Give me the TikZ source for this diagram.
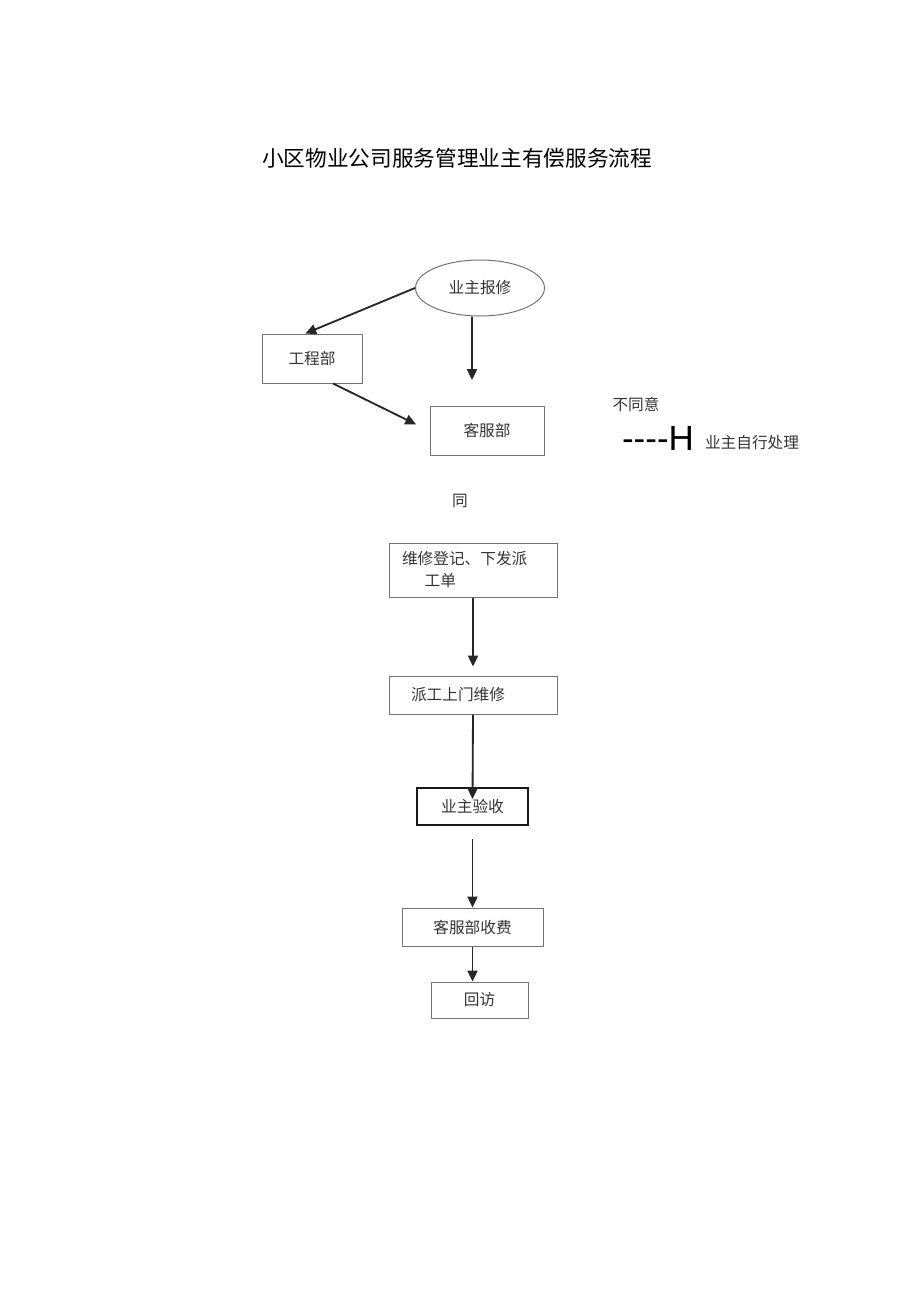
\documentclass[tikz,border=0pt]{standalone}
\usepackage{fontspec}
\newfontfamily\cjk{Noto Sans CJK SC}
\setsansfont{Liberation Sans}
\usetikzlibrary{arrows.meta,shapes.geometric}

\begin{document}
\begin{tikzpicture}[x=0.6pt,y=-0.6pt,
  lbl/.style={font=\cjk\fontsize{9.4}{13.2}\selectfont, text=black!80},
  box/.style={lbl, draw=black!55, line width=0.6pt, inner sep=0pt},
  arr/.style={-{Triangle[length=6.5pt,width=6pt]}, line width=1.1pt, black!85}]
\useasboundingbox (0,0) rectangle (920,1301);
\node[font=\cjk\fontsize{13}{15}\selectfont] (title) at (457,158) {小区物业公司服务管理业主有偿服务流程};
\node[box, ellipse, minimum width=77.4pt, minimum height=33.6pt] (bx) at (480,288) {业主报修};
\node[box, minimum width=60pt, minimum height=29.4pt] (gcb) at (312,358.5) {工程部};
\node[box, minimum width=68.4pt, minimum height=29.4pt] (kfb) at (487,430.5) {客服部};
\node[lbl] (bty) at (636,404) {不同意};
\node[font=\sffamily\fontsize{21}{21}\selectfont] (dash) at (658,438) {-{}-{}-{}-H};
\node[lbl] (zxcl) at (752,443) {业主自行处理};
\node[lbl] (tong) at (460,501) {同};
\node[box, minimum height=32.4pt, text width=85.2pt, inner xsep=7.8pt, align=left] (wxdj) at (473,570) {维修登记、下发派\\\hspace*{1.45em}工单};
\node[box, minimum height=22.8pt, text width=74.4pt, inner xsep=13.2pt, align=left] (pgsm) at (473,695) {派工上门维修};
\node[box, draw=black!90, line width=1.1pt, minimum width=66.6pt, minimum height=22.2pt] (yzys) at (472.5,806.5) {业主验收};
\node[box, minimum width=84.6pt, minimum height=22.8pt] (kfsf) at (472.5,927) {客服部收费};
\node[box, minimum width=58.2pt, minimum height=21.6pt] (hf) at (479.5,1000) {回访};
\coordinate (kfbin) at (472,380);
\draw[arr] (bx.west) -- ([xshift=-4pt]gcb.north);
\draw[arr] ([xshift=-4.8pt]bx.south) -- (kfbin);
\draw[arr] ([xshift=12.6pt]gcb.south) -- ([yshift=-0.3pt]kfb.west) [shorten >=9pt];
\draw[arr, shorten >=5.4pt] (wxdj.south) -- (pgsm.north);
\draw[arr] (pgsm.south) -- ([yshift=-7.2pt]yzys.north);
\draw[arr, shorten <=7.8pt] (yzys.south) -- (kfsf.north);
\draw[arr] (kfsf.south) -- (kfsf.south |- hf.north);
\end{tikzpicture}
\end{document}
